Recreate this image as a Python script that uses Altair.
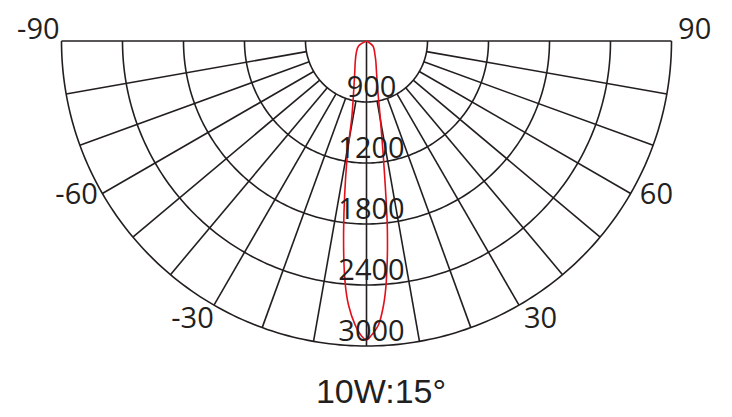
import altair as alt
import numpy as np
import pandas as pd

# ---------------- data ----------------
# light-distribution curve (angle in degrees, intensity in cd-scale units)
curve_angle = [-90, -58, -41, -27.5, -20.8, -14.6, -11, -9.4, -6.9, -5.1, -3.9, -2.3, -1, 0,
               1, 2.4, 3.7, 4.7, 6.3, 8.2, 10.3, 12.9, 16.7, 25, 30, 52, 90]
curve_value = [0, 92, 153, 241, 325, 498, 751, 1176, 1873, 2376, 2603, 2795, 2900, 2941,
               2892, 2796, 2602, 2375, 1871, 1172, 748, 495, 349, 216, 170, 80, 0]

# grid
ring_values = [600, 1200, 1800, 2400, 3000]
ring_labels = ["900", "1200", "1800", "2400", "3000"]
spoke_angles = [-80, -70, -60, -50, -40, -30, -20, -10, 10, 20, 30, 40, 50, 60, 70, 80]
axis_angles = [-90, 0, 90]
angle_ticks = [-90, -60, -30, 30, 60, 90]
angle_labels = ["-90", "-60", "-30", "30", "60", "90"]
title_text = "10W:15°"

# ---------------- layout ----------------
W, H = 716, 350
R_MAX = 3000
R_PX = 305.0
S = R_PX / R_MAX                # px per unit
CX, CY = 358.5, 33.0            # centre in plot px
xs = alt.Scale(domain=[-CX / S, (W - CX) / S], nice=False, zero=False)
ys = alt.Scale(domain=[-(H - CY) / S, CY / S], nice=False, zero=False)

GRID = "#231f20"
RED = "#e3101b"
NUM_FONT = "Open Sans"

# ---------------- tables ----------------
curve_df = pd.DataFrame({"i": range(len(curve_angle)), "a": curve_angle, "v": curve_value})
ring_df = pd.DataFrame({"r": ring_values, "label": ring_labels})
# ring arcs: geometry (half circles) sampled along the angle
arc_steps = np.linspace(-90, 90, 181)
arc_df = pd.DataFrame(
    [{"r": r, "a": float(a)} for r in ring_values for a in arc_steps]
)
spoke_df = pd.DataFrame({
    "a": spoke_angles + axis_angles,
    "r0": [ring_values[0]] * len(spoke_angles) + [0] * len(axis_angles),
    "r1": [R_MAX] * (len(spoke_angles) + len(axis_angles)),
})
alab_df = pd.DataFrame({"a": angle_ticks, "label": angle_labels})

X = lambda f: alt.X(f, scale=xs, axis=None)
Y = lambda f: alt.Y(f, scale=ys, axis=None)

rings = alt.Chart(arc_df).mark_line(color=GRID, strokeWidth=1.6).transform_calculate(
    x="datum.r*sin(datum.a*PI/180)", y="-datum.r*cos(datum.a*PI/180)"
).encode(x=X("x:Q"), y=Y("y:Q"), detail="r:N", order="a:Q")

spokes = alt.Chart(spoke_df).mark_rule(color=GRID, strokeWidth=1.6).transform_calculate(
    x0="datum.r0*sin(datum.a*PI/180)", y0="-datum.r0*cos(datum.a*PI/180)",
    x1="datum.r1*sin(datum.a*PI/180)", y1="-datum.r1*cos(datum.a*PI/180)",
).encode(x=X("x0:Q"), y=Y("y0:Q"), x2="x1:Q", y2="y1:Q")

curve = alt.Chart(curve_df).mark_line(
    color=RED, strokeWidth=1.6, interpolate="catmull-rom"
).transform_calculate(
    x="datum.v*sin(datum.a*PI/180)", y="-datum.v*cos(datum.a*PI/180)"
).encode(x=X("x:Q"), y=Y("y:Q"), order="i:Q")

ring_text = alt.Chart(ring_df).mark_text(
    font=NUM_FONT, fontSize=29, color=GRID, align="center", baseline="alphabetic", dx=5, dy=-5
).transform_calculate(x="0", y="-datum.r").encode(x=X("x:Q"), y=Y("y:Q"), text="label:N")

angle_text = alt.Chart(alab_df).mark_text(
    font=NUM_FONT, fontSize=29, color=GRID, align="center", baseline="middle"
).transform_calculate(
    la="datum.a + (datum.a < 0 ? -2 : 2)",
    x="3230*sin(datum.la*PI/180)", y="-3230*cos(datum.la*PI/180)",
).encode(x=X("x:Q"), y=Y("y:Q"), text="label:N")

chart = alt.layer(rings, spokes, curve, ring_text, angle_text).properties(
    width=W, height=H, padding=0,
    title=alt.TitleParams(text=title_text, orient="bottom", anchor="middle", font="Liberation Sans",
                          fontSize=34, fontWeight="normal", color=GRID, baseline="alphabetic",
                          offset=45, dx=15),
).configure_view(strokeWidth=0)

chart.save("out.html", embed_options={"renderer": "svg", "actions": False})
